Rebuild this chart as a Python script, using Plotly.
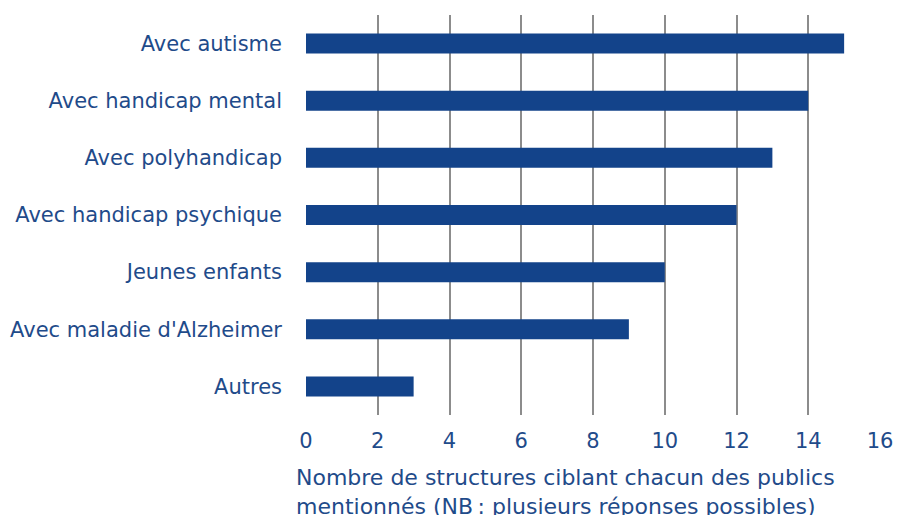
import plotly.graph_objects as go

categories = ["Avec autisme", "Avec handicap mental", "Avec polyhandicap",
              "Avec handicap psychique", "Jeunes enfants",
              "Avec maladie d'Alzheimer", "Autres"]
values = [15, 14, 13, 12, 10, 9, 3]
x_ticks = [0, 2, 4, 6, 8, 10, 12, 14, 16]
x_title = "Nombre de structures ciblant chacun des publics<br>mentionnés (NB\u202f: plusieurs réponses possibles)"

blue = "#13438a"
text_blue = "#1f4b8a"
font_family = "DejaVu Sans, sans-serif"

fig = go.Figure(go.Bar(
    x=values, y=categories, orientation="h",
    marker=dict(color=blue, line=dict(width=0)),
))

fig.update_layout(
    width=897, height=515,
    margin=dict(l=306, r=17, t=15, b=100, autoexpand=False),
    paper_bgcolor="white", plot_bgcolor="white",
    bargap=0.65,
    showlegend=False,
    font=dict(family=font_family, color=text_blue, size=21),
    xaxis=dict(
        range=[0, 16], tickvals=x_ticks, showgrid=True,
        gridcolor="#8c8c8c", gridwidth=2, zeroline=False,
        showline=False, ticklabelstandoff=11, automargin=False,
        tickfont=dict(size=21, color=text_blue),
    ),
    yaxis=dict(
        categoryorder="array", categoryarray=categories[::-1],
        showgrid=False, zeroline=False, showline=False,
        ticklabelstandoff=23, automargin=False,
        tickfont=dict(size=21, color=text_blue),
    ),
    annotations=[dict(
        text=x_title, xref="paper", yref="paper",
        x=-0.0205, y=-0.12, xanchor="left", yanchor="top",
        align="left", showarrow=False,
        font=dict(size=22, color=text_blue, family=font_family),
    )],
)

fig.write_html(
    "out.html",
    config={"displayModeBar": False},
    post_script="document.body.style.margin='0';document.body.style.overflow='hidden';",
)
